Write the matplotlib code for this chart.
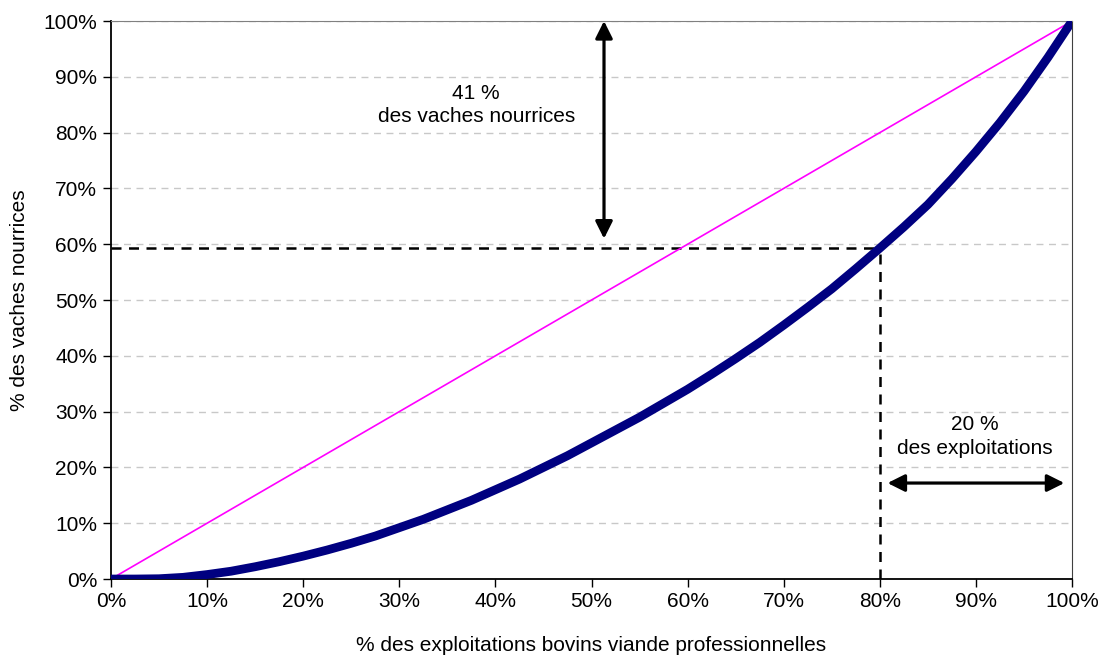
import matplotlib.pyplot as plt
from matplotlib.ticker import FuncFormatter

plt.rcParams['font.family'] = ['Liberation Sans', 'DejaVu Sans']

# Courbe de concentration
pct_exploitations = [0, 2.5, 5, 7.5, 10, 12.5, 15, 17.5, 20, 22.5, 25, 27.5, 30, 32.5, 35, 37.5,
                     40, 42.5, 45, 47.5, 50, 52.5, 55, 57.5, 60, 62.5, 65, 67.5, 70, 72.5, 75,
                     77.5, 80, 82.5, 85, 87.5, 90, 92.5, 95, 97.5, 100]
pct_vaches = [0, 0, 0.05, 0.3, 0.8, 1.4, 2.2, 3.1, 4.1, 5.2, 6.4, 7.7, 9.2, 10.7, 12.4, 14.1,
              16.0, 17.9, 20.0, 22.1, 24.4, 26.7, 29.0, 31.5, 34.0, 36.7, 39.5, 42.4, 45.5, 48.7, 52.0,
              55.6, 59.3, 63.1, 67.1, 71.7, 76.6, 81.8, 87.4, 93.5, 100]

# Diagonale d'égalité
diag_x = [0, 100]
diag_y = [0, 100]

seuil_x = 80
seuil_y = 59.3

fig = plt.figure(figsize=(11.01, 6.57), dpi=100)
ax = fig.add_axes([0.1008, 0.1187, 0.8729, 0.8493])

ax.plot(diag_x, diag_y, color='#FF00FF', lw=1.2, zorder=3)
ax.plot(pct_exploitations, pct_vaches, color='#000080', lw=6.3,
        solid_capstyle='round', solid_joinstyle='round', zorder=4)

# lignes pointillées du seuil 80 %
ax.plot([0, seuil_x], [seuil_y, seuil_y], color='black', lw=1.8, ls=(0, (4, 3)), zorder=2)
ax.plot([seuil_x, seuil_x], [0, seuil_y], color='black', lw=1.8, ls=(0, (4, 3)), zorder=2)

# flèches
arrow = dict(arrowstyle='<|-|>', color='black', lw=2.3, mutation_scale=26, shrinkA=0, shrinkB=0)
ax.annotate('', xy=(51.3, 100), xytext=(51.3, 61), arrowprops=arrow)
ax.annotate('', xy=(80.8, 17.2), xytext=(99.2, 17.2), arrowprops=arrow)

ax.text(38, 85.0, '41 %\ndes vaches nourrices', ha='center', va='center', fontsize=15, linespacing=1.25)
ax.text(89.9, 25.5, '20 %\ndes exploitations', ha='center', va='center', fontsize=15, linespacing=1.3)

ax.set_xlim(0, 100)
ax.set_ylim(0, 100)
ax.set_xticks(range(0, 101, 10))
ax.set_yticks(range(0, 101, 10))
fmt = FuncFormatter(lambda v, p: f'{int(v)}%')
ax.xaxis.set_major_formatter(fmt)
ax.yaxis.set_major_formatter(fmt)
ax.tick_params(labelsize=15, direction='out', length=6, width=1)
ax.tick_params(axis='x', pad=3)
ax.tick_params(axis='y', pad=4)

ax.grid(axis='y', color='#c8c8c8', ls=(0, (5, 4)), lw=1)
ax.set_axisbelow(True)

ax.spines['top'].set_color('#808080')
ax.spines['right'].set_color('#404040')
ax.spines['right'].set_linewidth(0.8)
ax.spines['left'].set_linewidth(1.3)
ax.spines['bottom'].set_linewidth(1.3)

ax.set_xlabel('% des exploitations bovins viande professionnelles', fontsize=15, labelpad=18)
ax.set_ylabel('% des vaches nourrices', fontsize=15, labelpad=10)

fig.savefig('out.png', dpi=100)
